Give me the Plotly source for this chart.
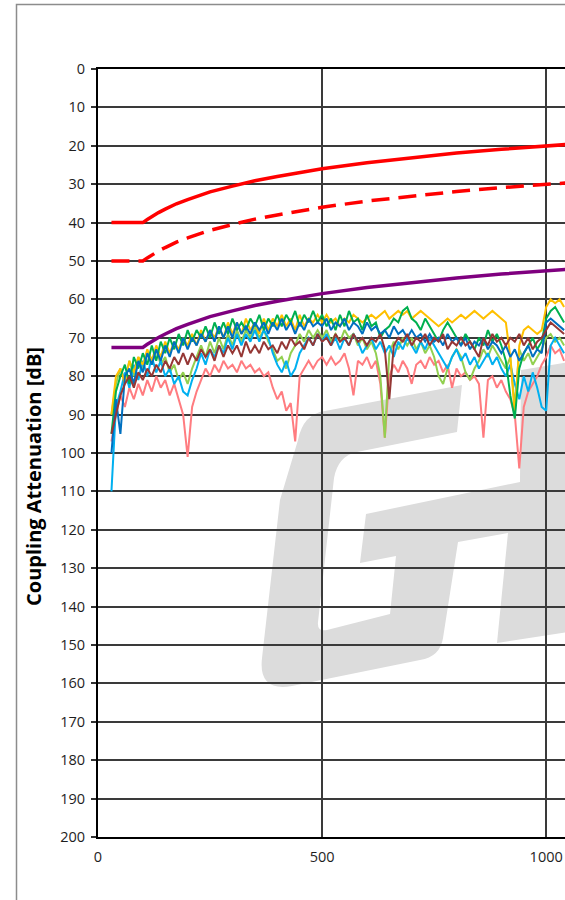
import plotly.graph_objects as go

# ---------------- data ----------------
freq = list(range(30, 1041, 10))  # MHz, 102 points

yellow = [90, 80, 78, 82, 76, 79, 75, 77, 73, 76,
          72, 75, 71, 74, 71, 73, 70, 72, 69, 72,
          68, 71, 68, 70, 67, 70, 66, 69, 66, 69,
          65, 68, 66, 69, 65, 68, 65, 67, 64, 67,
          65, 68, 64, 67, 65, 66, 64, 66, 64, 66,
          65, 67, 65, 66, 64, 65, 66, 65, 64, 65,
          64, 63, 65, 64, 63, 64, 63, 65, 64, 63,
          64, 65, 66, 67, 66, 65, 66, 65, 64, 65,
          64, 63, 64, 65, 64, 63, 64, 65, 66, 75,
          90, 72, 68, 67, 68, 69, 68, 62, 60, 61,
          60, 62]

green = [95, 84, 80, 77, 82, 75, 78, 74, 77, 72,
         76, 71, 74, 70, 73, 69, 72, 68, 71, 68,
         70, 67, 70, 66, 69, 66, 69, 65, 68, 66,
         68, 65, 67, 64, 68, 65, 67, 64, 67, 64,
         66, 63, 67, 64, 66, 63, 66, 64, 67, 65,
         68, 64, 67, 63, 66, 65, 68, 64, 67, 66,
         70, 68, 67, 65, 66, 63, 62, 65, 66, 68,
         65, 67, 69, 71, 68, 66, 68, 70, 72, 69,
         71, 73, 70, 72, 68, 71, 69, 72, 76, 85,
         91, 78, 74, 72, 70, 73, 71, 65, 63, 62,
         64, 66]

blue = [100, 86, 95, 80, 78, 82, 76, 79, 74, 77,
        73, 76, 72, 75, 71, 74, 70, 73, 70, 72,
        69, 71, 68, 71, 67, 70, 67, 70, 66, 69,
        67, 69, 66, 68, 66, 69, 66, 68, 65, 68,
        66, 69, 66, 68, 65, 67, 66, 67, 65, 68,
        66, 67, 65, 68, 66, 67, 69, 66, 68, 67,
        69, 68, 70, 67, 69, 68, 70, 68, 70, 69,
        71, 69, 71, 70, 72, 69, 71, 70, 72, 70,
        73, 71, 72, 70, 73, 71, 72, 74, 72, 75,
        73, 76, 74, 72, 75, 73, 74, 66, 65, 66,
        67, 68]

light_blue = [110, 88, 84, 79, 83, 77, 81, 76, 80, 75,
              79, 76, 80, 78, 82, 80, 84, 85, 81, 78,
              74, 77, 73, 75, 72, 74, 70, 73, 69, 72,
              69, 71, 68, 71, 68, 70, 74, 77, 79, 76,
              80, 78, 74, 72, 70, 72, 69, 71, 69, 72,
              70, 73, 70, 72, 69, 71, 74, 72, 70, 73,
              71, 74, 72, 75, 71, 73, 70, 72, 74, 71,
              73, 70, 72, 74, 76, 78, 75, 73, 76, 74,
              77, 75, 78, 76, 74, 77, 75, 78, 80, 77,
              82, 86, 80, 84, 79, 83, 88, 89, 72, 70,
              72, 74]

light_green = [90, 82, 78, 81, 76, 80, 75, 78, 74, 77,
               73, 77, 75, 79, 77, 81, 79, 82, 78, 75,
               72, 75, 71, 74, 70, 73, 69, 72, 68, 71,
               68, 70, 67, 70, 68, 71, 73, 76, 75, 78,
               74, 72, 69, 71, 68, 70, 68, 70, 68, 71,
               69, 71, 68, 70, 69, 72, 70, 73, 71, 74,
               80, 96, 74, 71, 73, 70, 72, 70, 73, 71,
               74, 72, 75, 80, 82, 78, 75, 73, 75, 79,
               81, 78, 76, 73, 75, 72, 74, 76, 78, 75,
               88, 73, 76, 74, 77, 75, 73, 70, 69, 71,
               70, 72]

brown = [95, 90, 85, 82, 80, 83, 79, 81, 78, 80,
         77, 79, 76, 78, 75, 77, 74, 77, 74, 76,
         73, 75, 73, 76, 72, 75, 72, 74, 72, 75,
         71, 74, 72, 74, 71, 73, 72, 74, 71, 73,
         70, 72, 71, 73, 70, 72, 69, 71, 70, 72,
         69, 71, 70, 72, 69, 71, 70, 72, 70, 71,
         69, 73, 86, 72, 70, 71, 69, 72, 70, 71,
         69, 72, 70, 71, 69, 73, 71, 72, 70, 72,
         71, 73, 75, 70, 72, 69, 71, 70, 72, 70,
         71, 69, 72, 70, 73, 71, 70, 68, 66, 67,
         68, 69]

pink = [97, 90, 85, 88, 83, 86, 82, 85, 81, 84,
        80, 83, 81, 85, 82, 86, 90, 101, 88, 84,
        81, 78, 80, 77, 79, 76, 78, 77, 79, 76,
        78, 77, 79, 78, 80, 79, 83, 86, 84, 89,
        87, 97, 80, 78, 76, 78, 76, 75, 77, 75,
        77, 76, 74, 78, 85, 76, 77, 75, 78, 76,
        82, 96, 80, 77, 79, 76, 78, 82, 77, 76,
        78, 75, 77, 76, 79, 77, 83, 78, 80, 79,
        81, 80, 82, 96, 81, 80, 83, 81, 84, 86,
        90, 104, 88, 84, 82, 80, 77, 75, 72, 74,
        73, 76]

limit_freq = [30, 100, 110, 120, 135, 150, 175, 200, 250, 300, 350, 400,
              500, 600, 700, 800, 900, 1000, 1100]
limit_a = [40, 40, 39.2, 38.4, 37.4, 36.5, 35.1, 34.0, 32.0, 30.5, 29.1, 28.0,
           26.0, 24.4, 23.1, 21.9, 20.9, 20.0, 19.2]
limit_b = [50, 50, 49.2, 48.4, 47.4, 46.5, 45.1, 44.0, 42.0, 40.5, 39.1, 38.0,
           36.0, 34.4, 33.1, 31.9, 30.9, 30.0, 29.2]
limit_c = [72.5, 72.5, 71.7, 70.9, 69.9, 69.0, 67.6, 66.5, 64.5, 63.0, 61.6, 60.5,
           58.5, 56.9, 55.6, 54.4, 53.4, 52.5, 51.7]

y_ticks = list(range(0, 201, 10))
x_ticks = [0, 500, 1000]

# ---------------- figure ----------------
W, H = 565, 900
ML, MR, MT, MB = 98, 0, 69, 63
PW, PH = W - ML - MR, H - MT - MB

def px(xp):
    return (xp - ML) / PW

def py(yp):
    return (H - MB - yp) / PH

fig = go.Figure()

series = [
    (pink, "#FF7C80"),
    (light_green, "#92D050"),
    (light_blue, "#00B0F0"),
    (yellow, "#FFC000"),
    (green, "#00B050"),
    (blue, "#0070C0"),
    (brown, "#953735"),
]
for vals, col in series:
    fig.add_trace(go.Scatter(x=freq, y=vals, mode="lines",
                             line=dict(color=col, width=2), showlegend=False,
                             hoverinfo="skip"))

fig.add_trace(go.Scatter(x=limit_freq, y=limit_c, mode="lines",
                         line=dict(color="#7F007F", width=3.5), showlegend=False))
fig.add_trace(go.Scatter(x=limit_freq, y=limit_b, mode="lines",
                         line=dict(color="#FF0000", width=3.5, dash="18px,9px"),
                         showlegend=False))
fig.add_trace(go.Scatter(x=limit_freq, y=limit_a, mode="lines",
                         line=dict(color="#FF0000", width=3.5), showlegend=False))

# watermark logo (decoration), pixel outline -> paper coords
logo_pts = [
    ("M", 298, 440), ("Q", 303, 414, 325, 411), ("L", 462, 385), ("L", 457, 432),
    ("L", 357, 452), ("Q", 338, 456, 334, 478), ("L", 318, 622),
    ("Q", 317, 632, 327, 630), ("L", 390, 614), ("L", 396, 556), ("L", 360, 563),
    ("L", 366, 514), ("L", 520, 482), ("L", 521, 370), ("L", 575, 361),
    ("L", 575, 631), ("L", 497, 643), ("L", 508, 533), ("L", 458, 542),
    ("L", 443, 638), ("Q", 440, 657, 420, 660), ("L", 292, 686),
    ("Q", 258, 692, 262, 658), ("L", 280, 500), ("Z",),
]
path = ""
for p in logo_pts:
    if p[0] == "Z":
        path += " Z"
    elif p[0] == "Q":
        path += f" Q {px(p[1]):.4f},{py(p[2]):.4f} {px(p[3]):.4f},{py(p[4]):.4f}"
    else:
        path += f" {p[0]} {px(p[1]):.4f},{py(p[2]):.4f}"
fig.add_shape(type="path", path=path.strip(), xref="paper", yref="paper",
              fillcolor="#DCDCDC", line=dict(width=0), layer="below")

# outer chart-area frame
fig.add_shape(type="rect", xref="paper", yref="paper",
              x0=px(16.5), x1=px(620), y0=py(960), y1=py(4.5),
              line=dict(color="#8C8C8C", width=1.5), fillcolor="rgba(0,0,0,0)",
              layer="above")

fig.add_annotation(text="<b>Coupling Attenuation [dB]</b>", textangle=-90,
                   xref="paper", yref="paper", x=px(33), y=py(477),
                   xanchor="center", yanchor="middle", showarrow=False,
                   font=dict(family="Open Sans", size=20, color="#000000"))

axis_font = dict(family="Open Sans", size=14.5, color="#1E1E1E")
fig.update_xaxes(range=[0, 1042], tickvals=x_ticks, showgrid=True,
                 gridcolor="#3A3A3A", gridwidth=1.5, zeroline=False,
                 showline=True, linecolor="#000000", linewidth=2, mirror=True,
                 ticks="", ticklabelstandoff=6, tickfont=axis_font)
fig.update_yaxes(range=[200, 0], tickvals=y_ticks, showgrid=True,
                 gridcolor="#3A3A3A", gridwidth=1.5, zeroline=False,
                 showline=True, linecolor="#000000", linewidth=2,
                 ticks="outside", ticklen=5, tickwidth=1.5, tickcolor="#333333",
                 ticklabelstandoff=3, tickfont=axis_font)

fig.update_layout(width=W, height=H, margin=dict(l=ML, r=MR, t=MT, b=MB),
                  paper_bgcolor="white", plot_bgcolor="white", showlegend=False)

fig.write_html("out.html", config={"displayModeBar": False},
               post_script="document.body.style.margin='0';"
                           "document.body.style.overflow='hidden';")
